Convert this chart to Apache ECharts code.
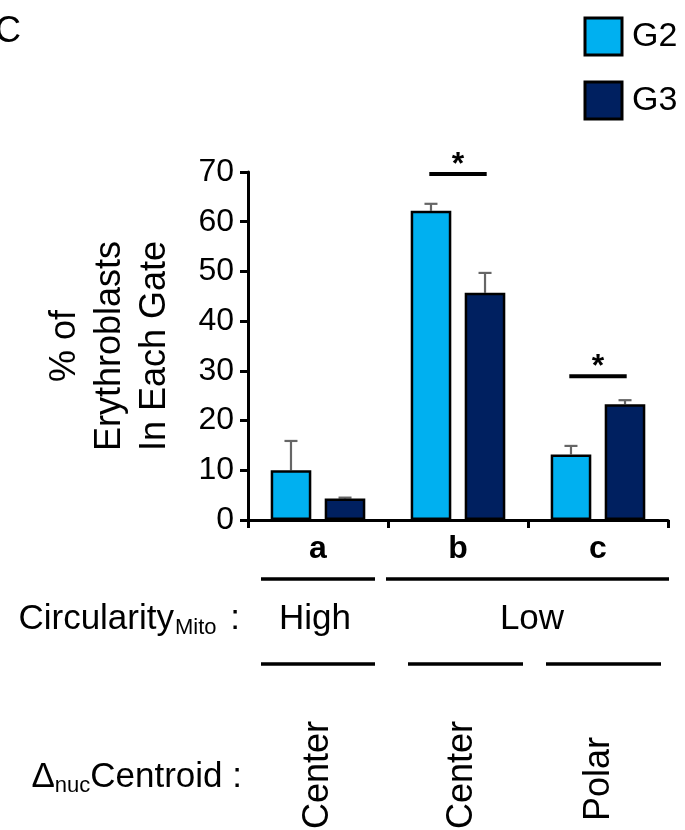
<!DOCTYPE html>
<html><head><meta charset="utf-8">
<script src="https://cdn.jsdelivr.net/npm/echarts@6/dist/echarts.min.js"></script>
<style>html,body{margin:0;padding:0;background:#fff}#c{width:685px;height:830px}</style>
</head><body><div id="c"></div>
<script>
// ---- data ----
const categories = ['a', 'b', 'c'];
const seriesNames = ['G2', 'G3'];
const g2Values = [10.0, 62.2, 13.2];
const g2Errors = [5.9, 1.4, 1.7];
const g3Values = [4.3, 45.7, 23.3];
const g3Errors = [0.2, 4.0, 0.8];
const yMin = 0, yMax = 70, yStep = 10;
const sigCategoryIdx = [1, 2];
const sigLineValues = [69.6, 28.9];
const sigMark = '*';
const circularityTitle = ['Circularity', 'Mito', ' :'];
const circularityLabels = ['High', 'Low'];
const centroidTitle = ['\u0394', 'nuc', 'Centroid :'];
const centroidLabels = ['Center', 'Center', 'Polar'];
const yTitle = ['% of', 'Erythroblasts', 'In Each Gate'];
const panelLabel = 'C';

// ---- style ----
const FONT = "'Liberation Sans', Arial, Helvetica, sans-serif";
const colors = ['#00B0F0', '#002060'];
const OFF = 0.193; // bar centre offset as fraction of band

const chart = echarts.init(document.getElementById('c'), null, {renderer: 'canvas'});

function errRender(sign) {
  return function (params, api) {
    const cat = api.value(0), v = api.value(1), e = api.value(2);
    const band = api.size([1, 0])[0];
    const p0 = api.coord([cat, v]);
    const p1 = api.coord([cat, v + e]);
    const x = p0[0] + sign * band * OFF;
    const cap = 6.5;
    return {
      type: 'group',
      children: [
        {type: 'line', shape: {x1: x, y1: p0[1], x2: x, y2: p1[1]}, style: {stroke: '#666', lineWidth: 2.2}},
        {type: 'line', shape: {x1: x - cap, y1: p1[1], x2: x + cap, y2: p1[1]}, style: {stroke: '#666', lineWidth: 2.2}}
      ]
    };
  };
}

function sigRender(params, api) {
  const cat = api.value(0), v = api.value(1);
  const band = api.size([1, 0])[0];
  const p = api.coord([cat, v]);
  const half = band * 0.205;
  return {
    type: 'group',
    children: [
      {type: 'line', shape: {x1: p[0] - half, y1: p[1], x2: p[0] + half, y2: p[1]}, style: {stroke: '#000', lineWidth: 4}},
      {type: 'text', style: {text: sigMark, x: p[0], y: p[1] - 9, font: 'bold 32px ' + FONT, fill: '#000', textAlign: 'center', textVerticalAlign: 'middle'}}
    ]
  };
}

const errData = (vals, errs) => vals.map((v, i) => [i, v, errs[i]]);

const txt = (text, x, y, size, extra) => Object.assign({
  type: 'text', x: x, y: y,
  style: Object.assign({text: text, font: size + 'px ' + FONT, fill: '#000', textAlign: 'center', textVerticalAlign: 'middle'}, extra || {})
});
const hline = (x1, x2, y) => ({type: 'line', shape: {x1: x1, y1: y, x2: x2, y2: y}, style: {stroke: '#000', lineWidth: 3.5}});

const option = {
  backgroundColor: '#fff',
  animation: false,
  grid: {left: 248, right: 17, top: 172, bottom: 310, containLabel: false},
  legend: {
    data: seriesNames, orient: 'vertical', left: 583.5, top: 16.5, padding: 0,
    itemWidth: 37, itemHeight: 37, itemGap: 24, icon: 'rect', selectedMode: false,
    itemStyle: {borderColor: '#000', borderWidth: 3},
    textStyle: {fontSize: 34, fontFamily: FONT, color: '#000', padding: [0, 0, 0, 5]}
  },
  xAxis: {
    type: 'category', data: categories,
    axisLine: {lineStyle: {color: '#000', width: 3}},
    axisTick: {show: true, length: 8, lineStyle: {color: '#000', width: 3}},
    axisLabel: {fontSize: 32, fontWeight: 'bold', fontFamily: FONT, color: '#000', margin: 13}
  },
  yAxis: {
    type: 'value', min: yMin, max: yMax, interval: yStep,
    splitLine: {show: false},
    axisLine: {show: true, lineStyle: {color: '#000', width: 3}},
    axisTick: {show: true, length: 8, lineStyle: {color: '#000', width: 3}},
    axisLabel: {fontSize: 32, fontFamily: FONT, color: '#000', margin: 14},
    name: yTitle.join('\n'), nameLocation: 'middle', nameRotate: 90, nameGap: 70,
    nameTextStyle: {fontSize: 36, fontFamily: FONT, color: '#000', lineHeight: 45, align: 'center'}
  },
  series: [
    {name: seriesNames[0], type: 'bar', data: g2Values, barWidth: '29%', barGap: '33%', z: 2,
      itemStyle: {color: colors[0], borderColor: '#000', borderWidth: 2.5}},
    {name: seriesNames[1], type: 'bar', data: g3Values, barWidth: '29%', barGap: '33%', z: 2,
      itemStyle: {color: colors[1], borderColor: '#000', borderWidth: 2.5}},
    {name: 'errG2', type: 'custom', renderItem: errRender(-1), data: errData(g2Values, g2Errors), z: 1, encode: {x: 0, y: 1}},
    {name: 'errG3', type: 'custom', renderItem: errRender(1), data: errData(g3Values, g3Errors), z: 1, encode: {x: 0, y: 1}},
    {name: 'sig', type: 'custom', renderItem: sigRender, data: sigCategoryIdx.map((c, i) => [c, sigLineValues[i]]), z: 3, encode: {x: 0, y: 1}}
  ],
  graphic: [
    txt(panelLabel, -5, 32, 36, {textAlign: 'left'}),
    hline(261, 375, 579), hline(386, 669, 579),
    hline(261, 375, 664), hline(408, 523, 664), hline(546, 661, 664),
    {
      type: 'text', x: 240, y: 619,
      style: {
        text: '{m|' + circularityTitle[0] + '}{s|' + circularityTitle[1] + '}{m|' + circularityTitle[2] + '}',
        textAlign: 'right', textVerticalAlign: 'middle',
        rich: {
          m: {fontSize: 35, fontFamily: FONT, color: '#000', lineHeight: 40, verticalAlign: 'middle'},
          s: {fontSize: 22, fontFamily: FONT, color: '#000', lineHeight: 40, verticalAlign: 'bottom', padding: [0, 4, 0, 1]}
        }
      }
    },
    txt(circularityLabels[0], 315, 619, 35),
    txt(circularityLabels[1], 532, 619, 35),
    {
      type: 'text', x: 242, y: 777,
      style: {
        text: '{m|' + centroidTitle[0] + '}{s|' + centroidTitle[1] + '}{m|' + centroidTitle[2] + '}',
        textAlign: 'right', textVerticalAlign: 'middle',
        rich: {
          m: {fontSize: 35, fontFamily: FONT, color: '#000', lineHeight: 40, verticalAlign: 'middle'},
          s: {fontSize: 22, fontFamily: FONT, color: '#000', lineHeight: 40, verticalAlign: 'bottom'}
        }
      }
    },
    Object.assign(txt(centroidLabels[0], 318, 829, 36, {textAlign: 'left'}), {rotation: Math.PI / 2}),
    Object.assign(txt(centroidLabels[1], 462, 829, 36, {textAlign: 'left'}), {rotation: Math.PI / 2}),
    Object.assign(txt(centroidLabels[2], 599, 821, 36, {textAlign: 'left'}), {rotation: Math.PI / 2})
  ]
};
chart.setOption(option);
</script>
</body></html>
